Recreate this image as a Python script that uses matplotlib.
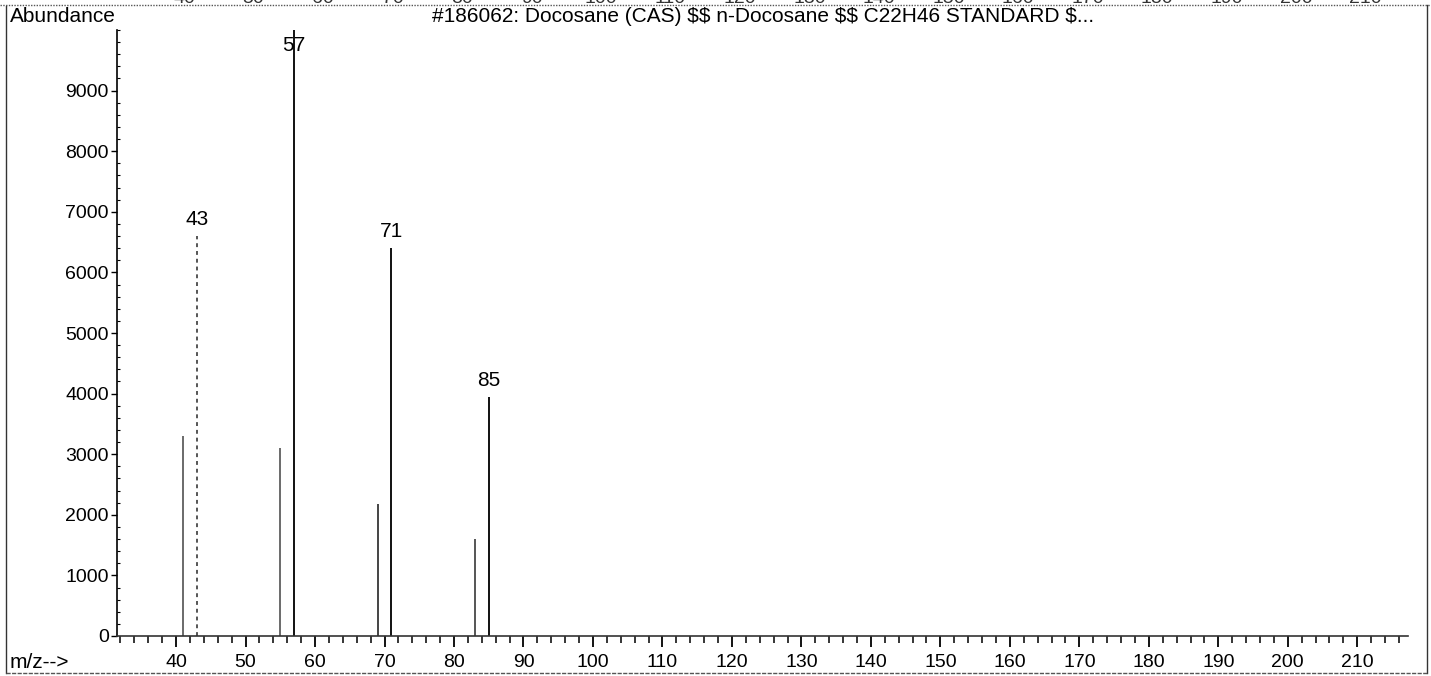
import matplotlib
matplotlib.use("Agg")
import matplotlib.pyplot as plt
from matplotlib.lines import Line2D
from matplotlib.ticker import MultipleLocator

plt.rcParams['font.family'] = ['Liberation Sans', 'DejaVu Sans']

# ---- data (m/z, abundance) ----
mz = [41, 43, 55, 57, 69, 71, 83, 85]
abundance = [3300, 6600, 3100, 10000, 2180, 6400, 1600, 3950]
labeled_peaks = [43, 57, 71, 85]
x_ticks = list(range(40, 211, 10))
y_ticks = list(range(0, 9001, 1000))
top_strip_labels = list(range(40, 211, 10))   # cut-off labels of the chart above

title = "#186062: Docosane (CAS) $$ n-Docosane $$ C22H46 STANDARD $..."

# ---- styles ----
peak_colors = {41: '#6a6a6a', 43: '#555555', 55: '#6a6a6a', 57: '#111111',
               69: '#444444', 71: '#111111', 83: '#555555', 85: '#111111'}
peak_styles = {43: (0, (2, 2))}

W, H = 1431, 676
fig = plt.figure(figsize=(W / 100, H / 100), dpi=100)
ax = fig.add_axes([117 / W, (H - 636) / H, (1408 - 117) / W, (636 - 30) / H])

for m, a in zip(mz, abundance):
    ax.vlines(m, 0, a, colors=peak_colors.get(m, 'black'),
              linestyles=[peak_styles.get(m, 'solid')], linewidth=1.4)

ax.set_xlim(31.5, 217.3)
ax.set_ylim(0, 10000)

for m, a in zip(mz, abundance):
    if m in labeled_peaks:
        if a >= 9800:
            ax.annotate(str(m), (m, 10000), xytext=(0, -4), textcoords='offset points',
                        ha='center', va='top', fontsize=15)
        else:
            ax.annotate(str(m), (m, a), xytext=(0, 5), textcoords='offset points',
                        ha='center', va='bottom', fontsize=15)

for s in ['top', 'right']:
    ax.spines[s].set_visible(False)
ax.spines['left'].set_linewidth(1.2)
ax.spines['bottom'].set_linewidth(1.2)
ax.spines['bottom'].set_color('#333333')

ax.set_xticks(x_ticks)
ax.xaxis.set_minor_locator(MultipleLocator(2))
ax.set_yticks(y_ticks)
ax.yaxis.set_minor_locator(MultipleLocator(200))
ax.tick_params(axis='x', which='major', direction='out', length=8, width=1.3,
               labelsize=14, pad=5)
ax.tick_params(axis='x', which='minor', direction='out', length=5, width=1.1)
ax.tick_params(axis='y', which='major', direction='out', length=4, width=1.0,
               labelsize=14, pad=2)
ax.tick_params(axis='y', which='minor', direction='in', length=2, width=0.8)

# ---- figure-level text ----
fig.text(10 / W, 1 - 17 / H, "Abundance", ha='left', va='center', fontsize=15)
fig.text(763 / W, 1 - 17 / H, title, ha='center', va='center', fontsize=15)
fig.text(10 / W, 1 - 662 / H, "m/z-->", ha='left', va='center', fontsize=15)

for v in top_strip_labels:
    fig.text((184 + (v - 40) * 6.95) / W, 1 - 3 / H, str(v), ha='center',
             va='baseline', fontsize=14, color='#333333')

# ---- frame borders ----
fig.add_artist(Line2D([0, 1], [1 - 5 / H, 1 - 5 / H], transform=fig.transFigure,
                      color='#555555', lw=1.0, ls=(0, (1, 1))))
fig.add_artist(Line2D([6 / W, 6 / W], [1 - 6 / H, 1 - 673 / H], transform=fig.transFigure,
                      color='#333333', lw=1.0))
fig.add_artist(Line2D([1427 / W, 1427 / W], [1 - 5 / H, 1 - 673 / H], transform=fig.transFigure,
                      color='#333333', lw=1.0))
fig.add_artist(Line2D([6 / W, 1427 / W], [1 - 673 / H, 1 - 673 / H], transform=fig.transFigure,
                      color='#555555', lw=1.0, ls=(0, (3, 1))))

fig.savefig("out.png", dpi=100)
